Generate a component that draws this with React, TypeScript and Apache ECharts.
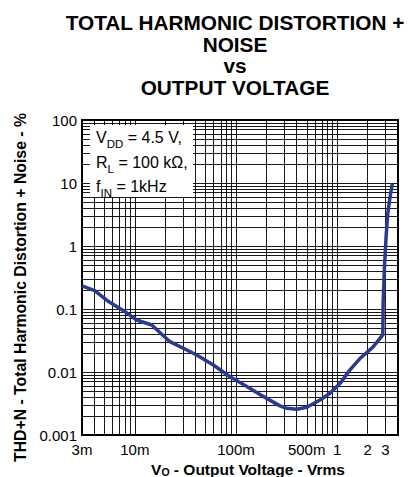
import React, { useEffect, useRef } from 'react';
import * as echarts from 'echarts';

// Output voltage (Vrms) and THD+N (%)
const outputVoltage = [
  0.003, 0.0040, 0.0055, 0.0080, 0.0104, 0.0147, 0.0222, 0.0326, 0.0409, 0.0597,
  0.0873, 0.128, 0.186, 0.272, 0.318, 0.399, 0.501, 0.678, 0.851, 1.07,
  1.34, 1.69, 1.96, 2.28, 2.83, 2.85, 2.93, 3.05, 3.17, 3.34, 3.52,
];
const thdNoise = [
  0.232, 0.195, 0.131, 0.0906, 0.0669, 0.0557, 0.0303, 0.0223, 0.0186, 0.0129,
  0.0084, 0.0059, 0.0041, 0.0029, 0.00265, 0.00256, 0.00275, 0.0036, 0.0046, 0.0066,
  0.0108, 0.0165, 0.0203, 0.0252, 0.0387, 0.123, 0.416, 1.41, 3.31, 6.06, 9.9,
];

const xTickValues = [0.003, 0.01, 0.1, 0.5, 1, 2, 3];
const xTickLabels = ['3m', '10m', '100m', '500m', '1', '2', '3'];
const yTickValues = [0.001, 0.01, 0.1, 1, 10, 100];
const yTickLabels = ['0.001', '0.01', '0.1', '1', '10', '100'];

const xRange = [0.003, 4];
const yRange = [0.001, 100];
const gridMultipliers = [1, 2, 3, 4, 5, 6, 7, 8, 9];
const xGridDecades = [-3, -2, -1, 0];
const yGridDecades = [-3, -2, -1, 0, 1];

const FONT = '"Liberation Sans", Arial, Helvetica, sans-serif';

function gridValues(decades: number[], range: number[]) {
  const out: number[] = [];
  decades.forEach((d) => {
    gridMultipliers.forEach((k) => {
      const v = k * Math.pow(10, d);
      if (v > range[0] * 1.0001 && v < range[1] * 0.9999) out.push(v);
    });
  });
  return out;
}

function lookup(values: number[], labels: string[]) {
  return (val: number) => {
    const i = values.findIndex((t) => Math.abs(Math.log10(t) - val) < 1e-6);
    return i >= 0 ? labels[i] : '';
  };
}

export default function App() {
  const ref = useRef<HTMLDivElement>(null);

  useEffect(() => {
    if (!ref.current) return;
    const chart = echarts.init(ref.current, undefined, { renderer: 'svg' });

    const xGrid = gridValues(xGridDecades, xRange);
    const yGrid = gridValues(yGridDecades, yRange);
    const gridLineData = [
      ...xGrid.map((v) => ({ xAxis: Math.log10(v) })),
      ...yGrid.map((v) => ({ yAxis: Math.log10(v) })),
    ];

    const option: any = {
      animation: false,
      backgroundColor: '#fff',
      grid: {
        left: 82,
        top: 120,
        right: 11,
        bottom: 42,
        show: true,
        borderColor: '#000',
        borderWidth: 2,
        backgroundColor: 'transparent',
        containLabel: false,
        outerBoundsMode: 'none',
      },
      xAxis: {
        type: 'value',
        min: Math.log10(xRange[0]),
        max: Math.log10(xRange[1]),
        axisLine: { show: false },
        axisTick: { show: false },
        splitLine: { show: false },
        axisLabel: {
          customValues: xTickValues.map((v) => Math.log10(v)),
          formatter: lookup(xTickValues, xTickLabels),
          fontSize: 15,
          fontFamily: FONT,
          color: '#000',
          margin: 7,
        },
        name: '{n|V}{s|O}{n| - Output Voltage - Vrms}',
        nameLocation: 'middle',
        nameGap: 25,
        nameTextStyle: {
          padding: [0, 0, 0, 16],
          rich: {
            n: { fontSize: 15.5, fontWeight: 'bold', fontFamily: FONT, color: '#000', lineHeight: 16, verticalAlign: 'middle' },
            s: { fontSize: 10.5, fontWeight: 'bold', fontFamily: FONT, color: '#000', lineHeight: 9, verticalAlign: 'bottom' },
          },
        },
      },
      yAxis: {
        type: 'value',
        min: Math.log10(yRange[0]),
        max: Math.log10(yRange[1]),
        axisLine: { show: false },
        axisTick: { show: false },
        splitLine: { show: false },
        axisLabel: {
          customValues: yTickValues.map((v) => Math.log10(v)),
          formatter: lookup(yTickValues, yTickLabels),
          fontSize: 15,
          fontFamily: FONT,
          color: '#000',
          margin: 5,
        },
        name: 'THD+N - Total Harmonic Distortion + Noise - %',
        nameLocation: 'middle',
        nameGap: 50,
        nameTextStyle: {
          fontSize: 15.8,
          fontWeight: 'bold',
          fontFamily: FONT,
          color: '#000',
          padding: [0, 20, 0, 0],
        },
      },
      graphic: [
        {
          type: 'text',
          x: 235,
          y: 11.5,
          z: 100,
          style: {
            text: 'TOTAL HARMONIC DISTORTION +\nNOISE\nvs\nOUTPUT VOLTAGE',
            fontSize: 20.8,
            fontWeight: 'bold',
            fontFamily: FONT,
            fill: '#000',
            align: 'center',
            verticalAlign: 'top',
            lineHeight: 21.7,
          },
        },
        {
          type: 'rect',
          z: 100,
          shape: { x: 90, y: 125, width: 103, height: 72 },
          style: { fill: '#fff' },
        },
        {
          type: 'text',
          x: 96,
          y: 125.5,
          z: 101,
          style: {
            text: '{n|V}{s|DD}{n| = 4.5 V,}\n{n|R}{s|L}{n| = 100 kΩ,}\n{n|f}{s|IN}{n| = 1kHz}',
            fill: '#000',
            rich: {
              n: { fontSize: 16, fontFamily: FONT, fill: '#000', lineHeight: 24.5, verticalAlign: 'middle' },
              s: { fontSize: 11.5, fontFamily: FONT, fill: '#000', lineHeight: 14, verticalAlign: 'bottom' },
            },
          },
        },
      ],
      series: [
        {
          type: 'line',
          data: [],
          silent: true,
          z: 1,
          markLine: {
            silent: true,
            symbol: 'none',
            animation: false,
            label: { show: false },
            lineStyle: { color: '#000', width: 1, type: 'solid', opacity: 0.9 },
            emphasis: { disabled: true },
            data: gridLineData,
          },
        },
        {
          type: 'line',
          z: 10,
          data: outputVoltage.map((v, i) => [Math.log10(v), Math.log10(thdNoise[i])]),
          showSymbol: false,
          smooth: false,
          lineStyle: { color: '#2B3990', width: 3.5 },
        },
      ],
    };

    chart.setOption(option);
    return () => chart.dispose();
  }, []);

  return <div ref={ref} style={{ width: 409, height: 477, position: 'absolute', left: 0, top: 0, background: '#fff' }} />;
}
